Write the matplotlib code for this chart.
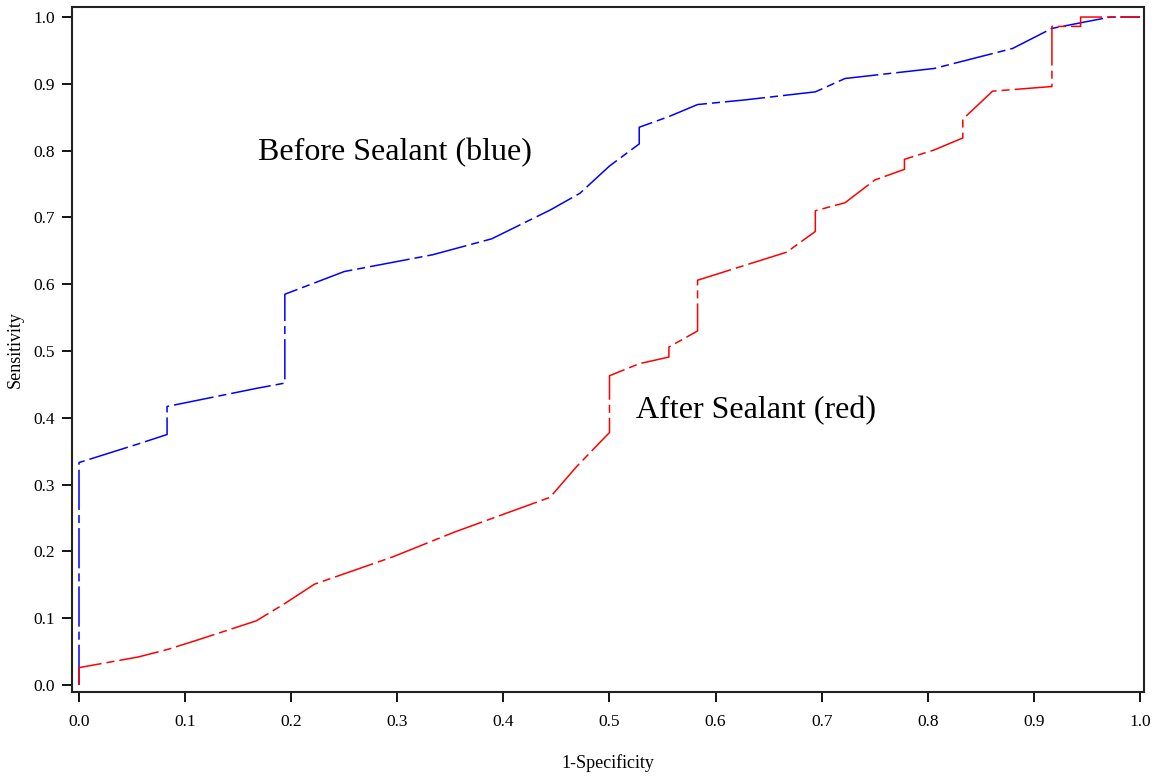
import numpy as np
import matplotlib
matplotlib.use("Agg")
import matplotlib.pyplot as plt

plt.rcParams['font.family'] = ['Liberation Serif', 'DejaVu Serif']
plt.rcParams['lines.scale_dashes'] = False

# ROC points, before sealant
before_fpr = [0.0, 0.0, 0.056, 0.083, 0.083, 0.167, 0.194, 0.194, 0.25, 0.333, 0.389,
              0.444, 0.472, 0.5, 0.528, 0.528, 0.556, 0.583, 0.628, 0.694, 0.722,
              0.75, 0.806, 0.88, 0.917, 0.972, 1.0]
before_tpr = [0.0, 0.333, 0.361, 0.375, 0.417, 0.444, 0.452, 0.585, 0.619, 0.644, 0.668,
              0.711, 0.736, 0.777, 0.810, 0.835, 0.851, 0.869, 0.876, 0.888, 0.908,
              0.913, 0.923, 0.953, 0.983, 1.0, 1.0]

# ROC points, after sealant
after_fpr = [0.0, 0.0, 0.056, 0.083, 0.111, 0.167, 0.194, 0.222, 0.296, 0.354, 0.444,
             0.469, 0.5, 0.5, 0.528, 0.556, 0.556, 0.583, 0.583, 0.667, 0.694, 0.694,
             0.722, 0.75, 0.778, 0.778, 0.806, 0.833, 0.833, 0.861, 0.917, 0.917,
             0.944, 0.944, 1.0]
after_tpr = [0.0, 0.026, 0.042, 0.053, 0.067, 0.096, 0.122, 0.151, 0.192, 0.229, 0.281,
             0.327, 0.378, 0.463, 0.481, 0.491, 0.506, 0.530, 0.606, 0.648, 0.679, 0.710,
             0.722, 0.756, 0.772, 0.787, 0.801, 0.819, 0.847, 0.889, 0.896, 0.986,
             0.986, 1.0, 1.0]

ticks = np.round(np.arange(0, 1.01, 0.1), 1)
tick_labels = ["%.1f" % t for t in ticks]

fig = plt.figure(figsize=(11.65, 7.8), dpi=100)
ax = fig.add_axes([0.0618, 0.1128, 0.9202, 0.8782])

dash = (0, (29, 3.6, 5.8, 3.6))
ax.plot(before_fpr, before_tpr, color='blue', lw=1.1, linestyle=dash)
ax.plot(after_fpr, after_tpr, color='red', lw=1.1, linestyle=dash)

ax.text(0.169, 0.786, "Before Sealant (blue)", fontsize=23, color='black')
ax.text(0.525, 0.399, "After Sealant (red)", fontsize=23, color='black')

ax.set_xlim(-0.0066, 1.0038)
ax.set_ylim(-0.0105, 1.015)
ax.set_xticks(ticks)
ax.set_xticklabels(tick_labels)
ax.set_yticks(ticks)
ax.set_yticklabels(tick_labels)
ax.tick_params(direction='out', length=7, width=1.3, labelsize=12.5, pad=9)
ax.tick_params(axis='y', pad=5)
for s in ax.spines.values():
    s.set_linewidth(1.5)
    s.set_color('#222222')

ax.set_xlabel("1-Specificity", fontsize=13, labelpad=17)
ax.set_ylabel("Sensitivity", fontsize=13, labelpad=7)

fig.savefig("out.png", dpi=100)
